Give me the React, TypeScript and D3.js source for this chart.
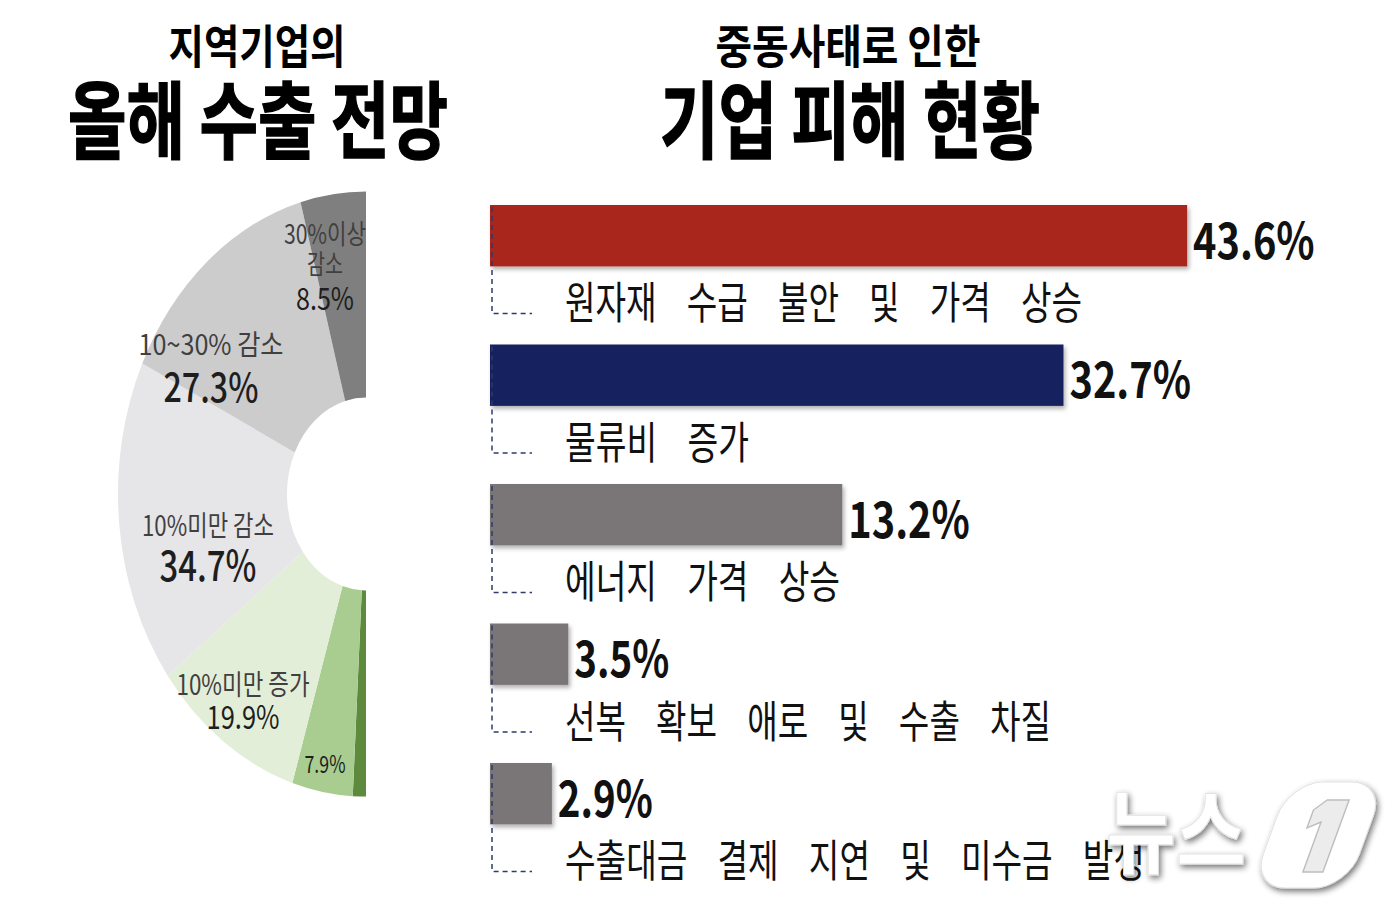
import React from "react";
import * as d3 from "d3";

// ---------- DATA ----------
// Left: this year's export outlook (half donut, bottom -> top)
const pieCategories = [
  "30% 이상 증가",
  "10~30% 증가",
  "10%미만 증가",
  "10%미만 감소",
  "10~30% 감소",
  "30%이상 감소",
];
const pieValues = [1.7, 7.9, 19.9, 34.7, 27.3, 8.5];
const pieColors = ["#5E8A3E", "#A9CD90", "#E3EED9", "#E6E5E7", "#CDCCCD", "#7F7F7F"];
// label lines shown inside each slice (category part only)
const pieLabelLines: string[][] = [[], [], ["10%미만 증가"], ["10%미만 감소"], ["10~30% 감소"], ["30%이상", "감소"]];
const pieShowValue = [false, true, true, true, true, true];

// Right: damage status due to Middle East situation
const barCategories = [
  "원자재 수급 불안 및 가격 상승",
  "물류비 증가",
  "에너지 가격 상승",
  "선복 확보 애로 및 수출 차질",
  "수출대금 결제 지연 및 미수금 발생",
];
const barValues = [43.6, 32.7, 13.2, 3.5, 2.9];
const barColors = ["#A8251B", "#13225E", "#7A7576", "#7A7576", "#7A7576"];

const titleLeft = ["지역기업의", "올해 수출 전망"];
const titleRight = ["중동사태로 인한", "기업 피해 현황"];

// ---------- LAYOUT ----------
const FONT = "'Noto Sans CJK KR', 'Noto Sans', sans-serif";
const PIE_CX = 366;
const PIE_CY = 494;
const R_OUT = 248;
const R_IN = 79;
const Y_STRETCH = 1.22;

const pieLabelLayout = [
  null,
  { cx: 325, cat: [] as { y: number; fs: number; len: number }[], val: { y: 773, fs: 24, len: 41, w: 400 } },
  { cx: 243, cat: [{ y: 695, fs: 28, len: 133 }], val: { y: 729, fs: 32, len: 73, w: 400 } },
  { cx: 208, cat: [{ y: 536, fs: 28, len: 132 }], val: { y: 581, fs: 42, len: 97, w: 500 } },
  { cx: 211, cat: [{ y: 355, fs: 28, len: 145 }], val: { y: 402, fs: 40, len: 95, w: 500 } },
  { cx: 325, cat: [{ y: 244, fs: 27, len: 82 }, { y: 274, fs: 27, len: 36 }], val: { y: 310, fs: 31, len: 58, w: 400 } },
];

const BAR_X0 = 490;

function valueTextLen(s: string) {
  let n = 0;
  for (const ch of s) {
    if (ch >= "0" && ch <= "9") n += 26.5;
    else if (ch === ".") n += 10;
    else if (ch === "%") n += 32;
  }
  return n;
}
function catTextLen(s: string) {
  let n = 0;
  for (const ch of s) n += ch === " " ? 29 : 31;
  return n;
}

export default function App() {
  // ---- pie ----
  const pie = d3
    .pie<number>()
    .sort(null)
    .value((d) => d)
    .startAngle(-Math.PI)
    .endAngle(0);
  const arcs = pie(pieValues);
  const arcGen = d3.arc<d3.PieArcDatum<number>>().innerRadius(R_IN).outerRadius(R_OUT);

  // ---- bars ----
  const x = d3.scaleLinear().domain([0, 3, 13, 45]).range([0, 64, 350, 713]);
  const y = d3
    .scaleBand<string>()
    .domain(barCategories)
    .range([205, 205 + 139.5 * 4.44])
    .paddingInner(0.56)
    .paddingOuter(0);
  const bw = y.bandwidth();

  return (
    <div style={{ position: "absolute", left: 0, top: 0 }}>
      <svg width={1400} height={908} style={{ display: "block", background: "#fff" }} fontFamily={FONT}>
        <defs>
          <filter id="barShadow" x="-5%" y="-20%" width="115%" height="150%">
            <feDropShadow dx="2" dy="3" stdDeviation="2" floodColor="#000" floodOpacity="0.3" />
          </filter>
          <filter id="wmShadow" x="-20%" y="-20%" width="150%" height="150%">
            <feGaussianBlur in="SourceAlpha" stdDeviation="3" />
            <feOffset dx="2" dy="3" result="b" />
            <feComponentTransfer>
              <feFuncA type="linear" slope="0.55" />
            </feComponentTransfer>
            <feMerge>
              <feMergeNode />
              <feMergeNode in="SourceGraphic" />
            </feMerge>
          </filter>
        </defs>

        {/* Titles */}
        <g fill="#000" fontWeight={700} textAnchor="middle">
          <text x={257} y={63} fontSize={46} textLength={177} lengthAdjust="spacingAndGlyphs">
            {titleLeft[0]}
          </text>
          <text x={258} y={152} fontSize={84} stroke="#000" strokeWidth={1.5} textLength={380} lengthAdjust="spacingAndGlyphs">
            {titleLeft[1]}
          </text>
          <text x={848} y={63} fontSize={46} textLength={265} lengthAdjust="spacingAndGlyphs">
            {titleRight[0]}
          </text>
          <text x={850} y={152} fontSize={84} stroke="#000" strokeWidth={1.5} textLength={380} lengthAdjust="spacingAndGlyphs">
            {titleRight[1]}
          </text>
        </g>

        {/* Half donut */}
        <g transform={`translate(${PIE_CX},${PIE_CY}) scale(1,${Y_STRETCH})`}>
          {arcs.map((a, i) => (
            <path key={pieCategories[i]} d={arcGen(a) || ""} fill={pieColors[i]} />
          ))}
        </g>

        {/* Pie labels */}
        {arcs.map((a, i) => {
          const L = pieLabelLayout[i];
          if (!L) return null;
          return (
            <g key={"pl" + i} textAnchor="middle">
              {pieLabelLines[i].map((t, j) => (
                <text
                  key={j}
                  x={L.cx}
                  y={L.cat[j].y}
                  fontSize={L.cat[j].fs}
                  fill="#404040"
                  textLength={L.cat[j].len}
                  lengthAdjust="spacingAndGlyphs"
                >
                  {t}
                </text>
              ))}
              {pieShowValue[i] && (
                <text
                  x={L.cx}
                  y={L.val.y}
                  fontSize={L.val.fs}
                  fontWeight={L.val.w}
                  fill="#1E1E1E"
                  textLength={L.val.len}
                  lengthAdjust="spacingAndGlyphs"
                >
                  {`${pieValues[i]}%`}
                </text>
              )}
            </g>
          );
        })}

        {/* Bars */}
        {barCategories.map((c, i) => {
          const top = y(c) as number;
          const bottom = top + bw;
          const w = x(barValues[i]);
          const vt = `${barValues[i]}%`;
          return (
            <g key={c}>
              <rect x={BAR_X0} y={top} width={w} height={bw} fill={barColors[i]} filter="url(#barShadow)" />
              <path
                d={`M${BAR_X0 + 2},${top + 2} V${bottom + 47} H${BAR_X0 + 42}`}
                fill="none"
                stroke="#2E3A6B"
                strokeWidth={1.5}
                strokeDasharray="5 4"
              />
              <text
                x={BAR_X0 + w + 6}
                y={top + bw / 2 + 23}
                fontSize={50}
                fontWeight={700}
                fill="#111"
                textLength={valueTextLen(vt)}
                lengthAdjust="spacingAndGlyphs"
              >
                {vt}
              </text>
              <text
                x={565}
                y={bottom + 53}
                fontSize={44}
                fill="#111"
                wordSpacing={30}
                textLength={catTextLen(c)}
                lengthAdjust="spacingAndGlyphs"
              >
                {c}
              </text>
            </g>
          );
        })}

        {/* Watermark */}
        <g filter="url(#wmShadow)">
          <text x={1106} y={866} fontSize={92} fontWeight={700} fill="#fff" stroke="#e4e4e4" strokeWidth={1} textLength={140} lengthAdjust="spacingAndGlyphs">
            뉴스
          </text>
          <g transform="translate(1318,836) skewX(-20)">
            <rect x={-48} y={-54} width={96} height={106} rx={34} fill="#fff" stroke="#e2e2e2" />
            <path d="M-4,-36 L18,-36 L18,36 L-2,36 L-2,-14 L-14,-8 L-14,-26 Z" fill="#ececec" stroke="#bdbdbd" strokeWidth={1.5} />
          </g>
        </g>
      </svg>
    </div>
  );
}
